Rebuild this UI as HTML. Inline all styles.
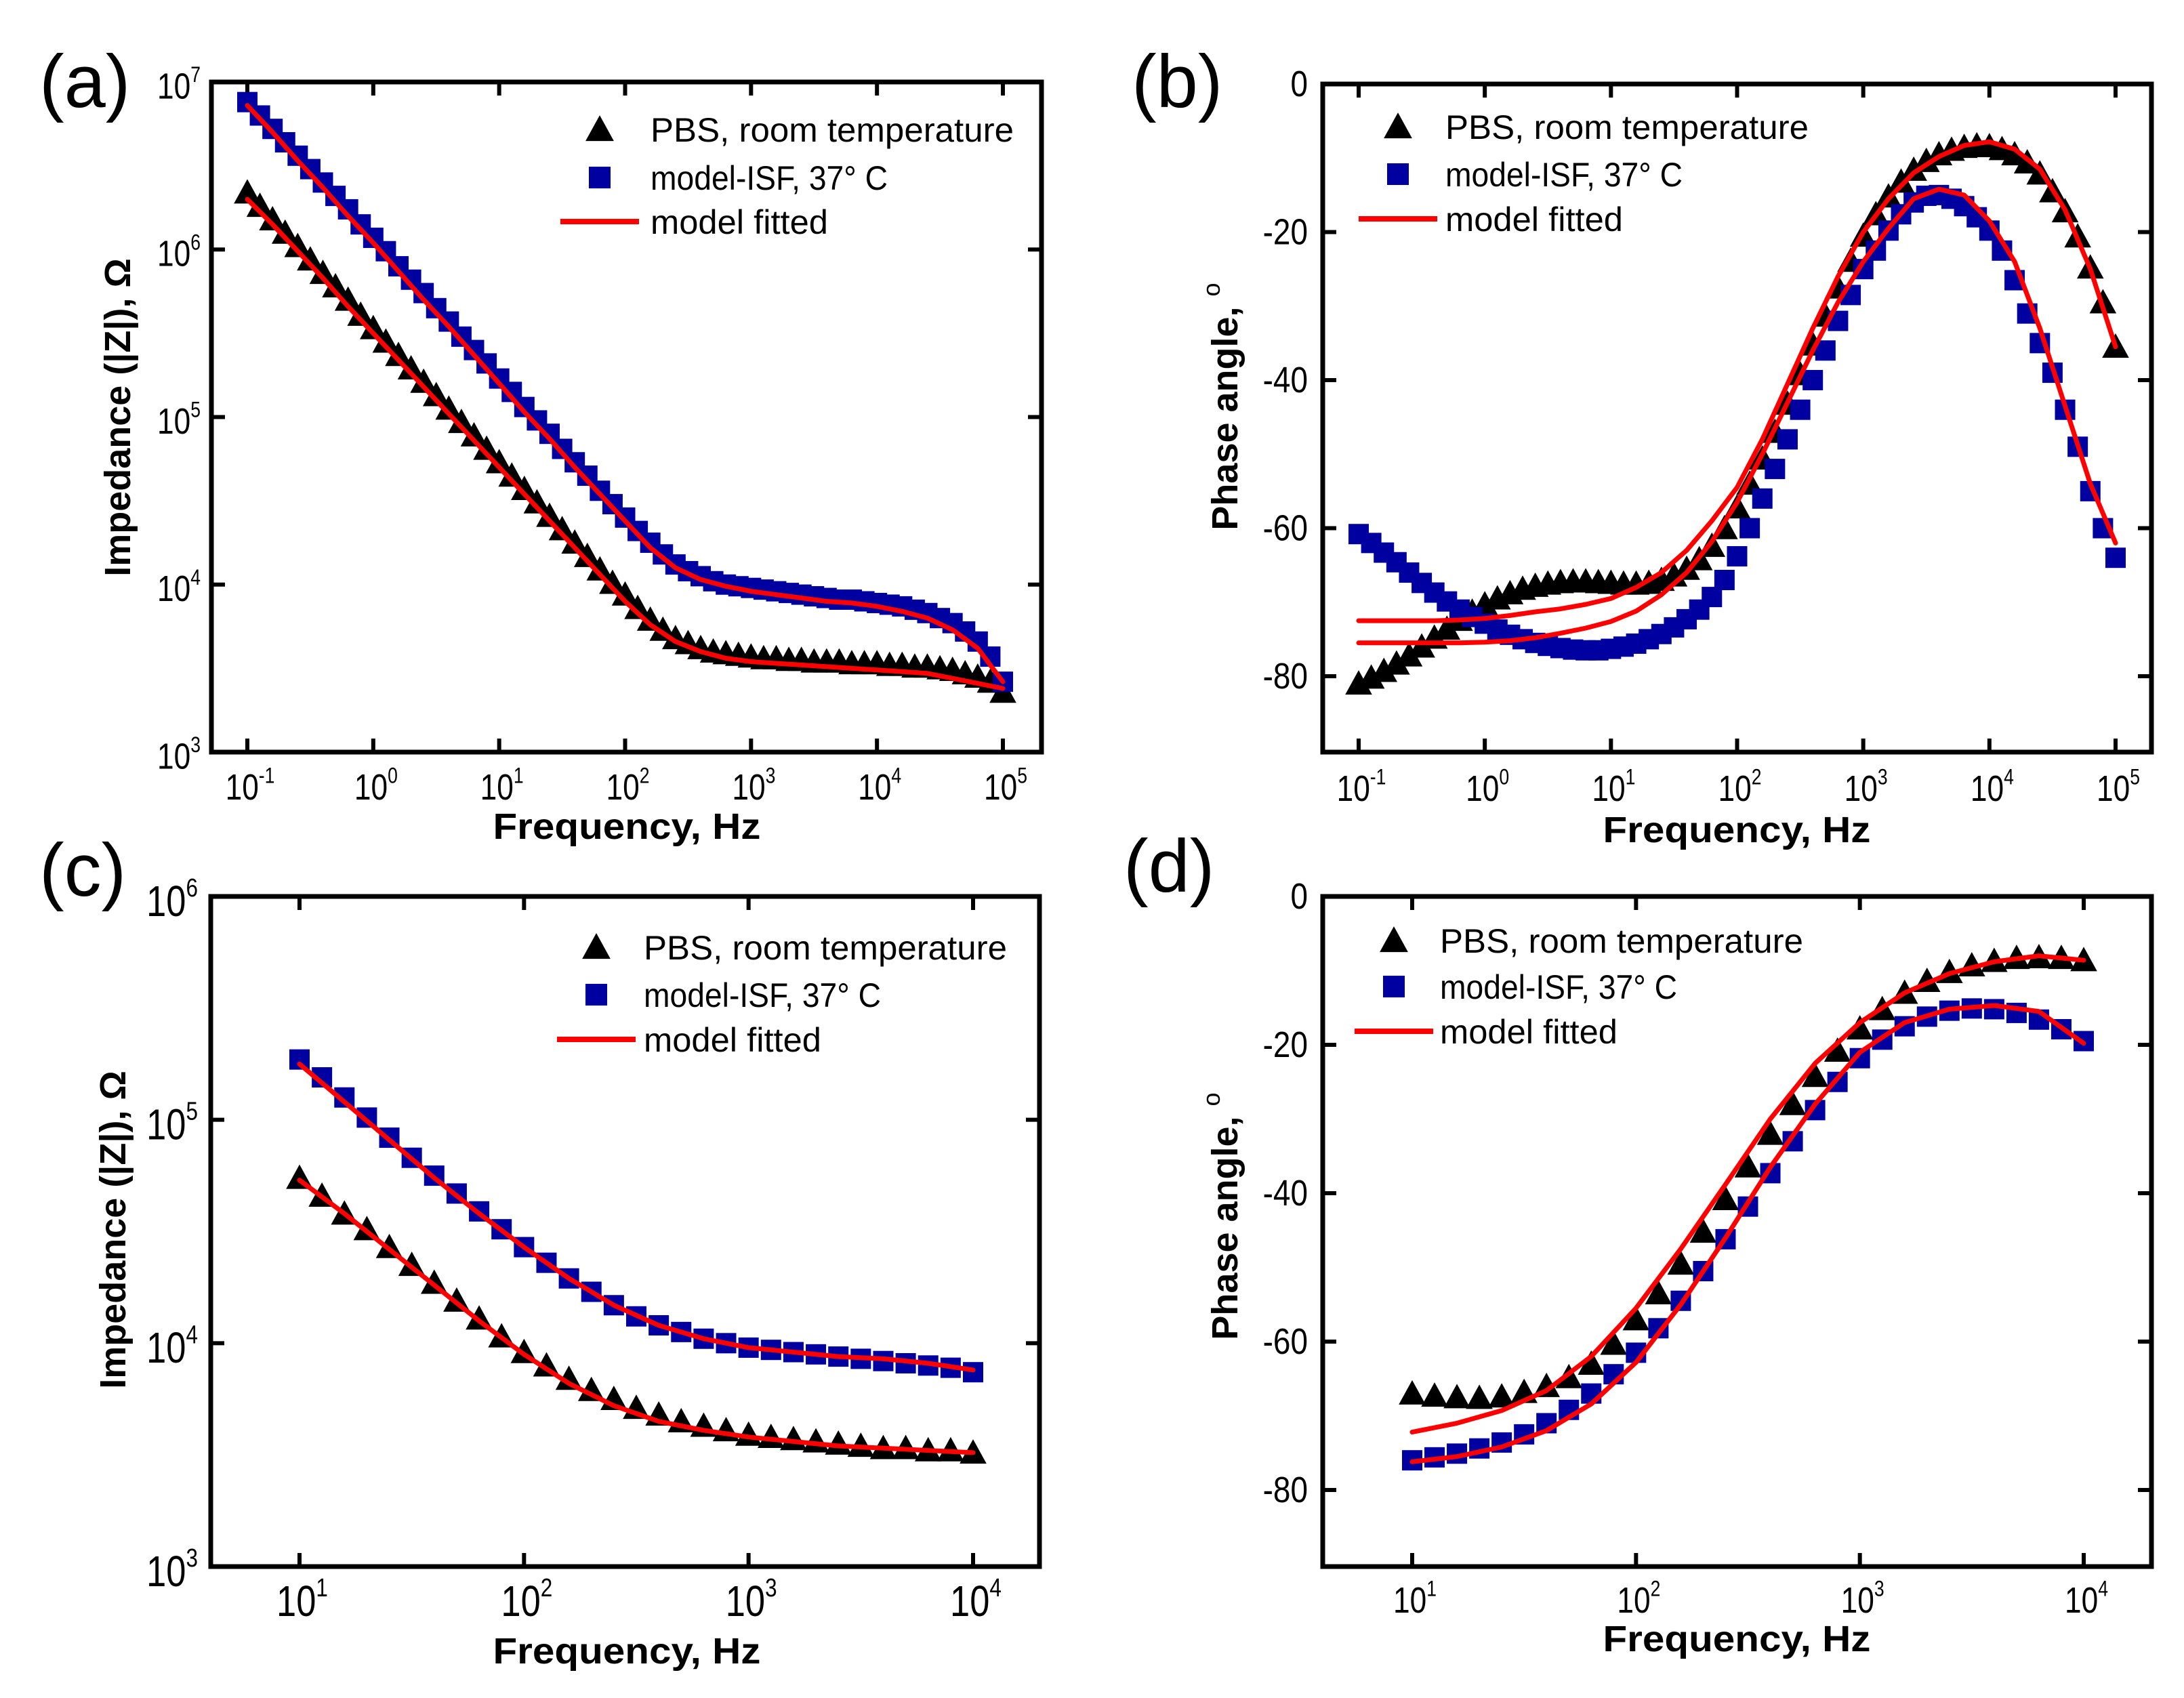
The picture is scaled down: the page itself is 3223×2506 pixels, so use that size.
<!DOCTYPE html>
<html><head><meta charset="utf-8">
<style>
html,body{margin:0;padding:0;background:#fff;}
svg{display:block;}
text{font-family:"Liberation Sans",Arial,sans-serif;fill:#000;}
</style></head>
<body>
<svg id="fig" xmlns="http://www.w3.org/2000/svg" width="3223" height="2506" viewBox="0 0 3223 2506"></svg>
<script>
// ---------- Panel (a): |Z| vs frequency, 0.1 Hz .. 1e5 Hz, 10 pts/decade ----------
const aFreqExp = [-1,-0.9,-0.8,-0.7,-0.6,-0.5,-0.4,-0.3,-0.2,-0.1,0,0.1,0.2,0.3,0.4,0.5,0.6,0.7,0.8,0.9,1,1.1,1.2,1.3,1.4,1.5,1.6,1.7,1.8,1.9,2,2.1,2.2,2.3,2.4,2.5,2.6,2.7,2.8,2.9,3,3.1,3.2,3.3,3.4,3.5,3.6,3.7,3.8,3.9,4,4.1,4.2,4.3,4.4,4.5,4.6,4.7,4.8,4.9,5];
const aPBS = [6.34,6.26,6.18,6.10,6.02,5.94,5.86,5.78,5.70,5.61,5.53,5.45,5.37,5.29,5.21,5.13,5.05,4.97,4.89,4.81,4.73,4.65,4.57,4.49,4.41,4.33,4.25,4.17,4.09,4.01,3.94,3.86,3.79,3.73,3.68,3.65,3.62,3.60,3.59,3.58,3.57,3.56,3.56,3.55,3.55,3.54,3.54,3.54,3.53,3.53,3.53,3.52,3.52,3.51,3.51,3.50,3.49,3.47,3.45,3.42,3.36];
const aISF = [6.88,6.80,6.72,6.64,6.56,6.48,6.40,6.32,6.24,6.15,6.07,5.99,5.90,5.82,5.74,5.65,5.57,5.48,5.40,5.32,5.23,5.15,5.06,4.98,4.90,4.81,4.73,4.65,4.56,4.48,4.40,4.32,4.25,4.18,4.12,4.08,4.05,4.02,4.00,3.99,3.98,3.97,3.96,3.95,3.94,3.93,3.92,3.91,3.91,3.90,3.89,3.88,3.87,3.85,3.83,3.80,3.77,3.72,3.66,3.57,3.42];
const aFitExp = [-1,-0.8,-0.6,-0.4,-0.2,0,0.2,0.4,0.6,0.8,1,1.2,1.4,1.6,1.8,2,2.2,2.4,2.6,2.8,3,3.2,3.4,3.6,3.8,4,4.2,4.4,4.6,4.8,5];
const aFitPBS = [6.30,6.15,5.99,5.83,5.66,5.50,5.34,5.18,5.02,4.86,4.70,4.54,4.38,4.22,4.06,3.90,3.76,3.66,3.60,3.56,3.54,3.53,3.52,3.51,3.50,3.49,3.48,3.47,3.44,3.41,3.38];
const aFitISF = [6.86,6.70,6.53,6.37,6.20,6.04,5.87,5.70,5.54,5.37,5.20,5.03,4.87,4.70,4.54,4.38,4.22,4.10,4.03,3.99,3.96,3.94,3.92,3.90,3.89,3.87,3.84,3.80,3.73,3.62,3.42];

// ---------- Panel (b): phase vs frequency ----------
const bPBS = [-81.0,-80.2,-79.3,-78.3,-77.2,-76.0,-74.8,-73.6,-72.4,-71.3,-70.3,-69.5,-68.8,-68.2,-67.8,-67.5,-67.3,-67.2,-67.2,-67.3,-67.4,-67.5,-67.5,-67.4,-67.0,-66.4,-65.5,-64.2,-62.4,-60.0,-57.2,-54.0,-50.6,-47.0,-43.2,-39.2,-35.2,-31.3,-27.5,-23.9,-20.5,-17.6,-15.2,-13.2,-11.6,-10.4,-9.5,-8.9,-8.5,-8.3,-8.4,-8.8,-9.5,-10.6,-12.1,-14.5,-17.2,-20.6,-24.8,-29.5,-35.5];
const bISF = [-60.8,-62.0,-63.3,-64.6,-66.0,-67.4,-68.7,-69.9,-71.0,-72.0,-72.9,-73.7,-74.4,-75.0,-75.5,-75.9,-76.2,-76.4,-76.5,-76.5,-76.3,-76.0,-75.6,-75.0,-74.3,-73.4,-72.3,-71.0,-69.3,-67.0,-63.8,-60.0,-56.0,-52.0,-48.0,-44.0,-40.0,-36.0,-32.0,-28.5,-25.0,-22.5,-19.8,-17.6,-16.0,-15.1,-15.0,-15.5,-16.5,-18.0,-19.8,-22.5,-26.5,-31.0,-35.0,-39.0,-44.0,-49.0,-55.0,-60.0,-64.0];
const bFitPBS = [-72.5,-72.5,-72.5,-72.5,-72.4,-72.2,-71.8,-71.3,-70.9,-70.3,-69.5,-68.0,-66.0,-63.0,-59.0,-54.5,-48.0,-40.5,-33.0,-26.0,-20.0,-15.5,-12.0,-9.8,-8.3,-7.8,-8.8,-11.5,-17.0,-25.0,-35.5];
const bFitISF = [-75.5,-75.5,-75.5,-75.5,-75.5,-75.4,-75.2,-74.8,-74.2,-73.5,-72.6,-71.2,-69.0,-66.0,-61.8,-56.5,-50.0,-43.0,-36.0,-29.5,-24.0,-19.5,-15.5,-14.2,-15.0,-18.5,-24.0,-33.0,-43.5,-54.0,-62.0];

// ---------- Panel (c): |Z|, 10 Hz .. 1e4 Hz ----------
const cFreqExp = [1,1.1,1.2,1.3,1.4,1.5,1.6,1.7,1.8,1.9,2,2.1,2.2,2.3,2.4,2.5,2.6,2.7,2.8,2.9,3,3.1,3.2,3.3,3.4,3.5,3.6,3.7,3.8,3.9,4];
const cPBS = [4.74,4.66,4.58,4.51,4.43,4.35,4.27,4.19,4.11,4.03,3.96,3.90,3.84,3.79,3.75,3.71,3.68,3.65,3.63,3.61,3.59,3.58,3.57,3.56,3.55,3.54,3.53,3.53,3.52,3.52,3.51];
const cISF = [5.27,5.19,5.10,5.01,4.92,4.83,4.75,4.67,4.59,4.51,4.43,4.36,4.29,4.23,4.17,4.12,4.08,4.05,4.02,4.00,3.98,3.97,3.96,3.95,3.94,3.93,3.92,3.91,3.90,3.89,3.87];
const cFitExp = [1,1.2,1.4,1.6,1.8,2,2.2,2.4,2.6,2.8,3,3.2,3.4,3.6,3.8,4];
const cFitPBS = [4.73,4.58,4.42,4.26,4.10,3.95,3.82,3.72,3.65,3.61,3.58,3.56,3.54,3.53,3.52,3.51];
const cFitISF = [5.25,5.08,4.91,4.74,4.58,4.43,4.29,4.17,4.08,4.02,3.98,3.96,3.94,3.93,3.91,3.88];

// ---------- Panel (d): phase, 10 Hz .. 1e4 Hz ----------
const dPBS = [-67.0,-67.3,-67.5,-67.6,-67.4,-66.8,-66.0,-64.8,-63.0,-60.3,-57.0,-53.5,-49.5,-45.2,-40.8,-36.4,-32.0,-28.0,-24.2,-20.8,-17.8,-15.2,-13.0,-11.4,-10.2,-9.3,-8.7,-8.3,-8.2,-8.3,-8.6];
const dISF = [-76.0,-75.6,-75.1,-74.4,-73.6,-72.5,-71.0,-69.2,-67.0,-64.4,-61.5,-58.2,-54.5,-50.5,-46.2,-41.8,-37.3,-33.0,-28.8,-25.0,-21.8,-19.3,-17.5,-16.2,-15.4,-15.1,-15.2,-15.7,-16.6,-17.9,-19.5];
const dFitPBS = [-72.2,-71.0,-69.3,-66.6,-62.0,-55.5,-47.5,-38.8,-30.0,-22.5,-17.0,-13.0,-10.4,-8.8,-8.0,-8.6];
const dFitISF = [-76.2,-75.5,-74.2,-72.0,-68.4,-62.8,-55.0,-46.0,-36.5,-28.0,-21.0,-17.0,-15.2,-14.7,-15.5,-19.8];

// tick label arrays
const aXTicks = [-1,0,1,2,3,4,5];
const aYTicks = [3,4,5,6,7];
const phaseTicks = [0,-20,-40,-60,-80];
const cXTicks = [1,2,3,4];
const cYTicks = [3,4,5,6];

const NS = "http://www.w3.org/2000/svg";
const svg = document.getElementById('fig');
const BLUE = "#0000a0";
function el(tag, attrs, parent){
  const e = document.createElementNS(NS, tag);
  for (const k in attrs) e.setAttribute(k, attrs[k]);
  (parent||svg).appendChild(e);
  return e;
}
function powLabel(g, x, y, exp, size, anchor){
  const t = el('text', {x:0, y:0, 'font-size':size, 'text-anchor':anchor, transform:`translate(${x},${y}) scale(0.82,1)`});
  
  
  t.appendChild(document.createTextNode('10'));
  const s = el('tspan', {dy: -size*0.45, 'font-size': size*0.6}, t);
  s.textContent = String(exp);
  g.appendChild(t);
  return t;
}
function triangle(g, x, y, s){
  const p = el('polygon', {points:`${x},${y-s*0.55} ${x-s*0.55},${y+s*0.45} ${x+s*0.55},${y+s*0.45}`, fill:'#000'}, g);
  
  
  return p;
}
function square(g, x, y, s){
  const r = el('rect', {x:x-s/2, y:y-s/2, width:s, height:s, fill:BLUE}, g);
  
  
  return r;
}

function panel(cfg){
  const g = el('g', {});
  
  
  const xS = v => cfg.x0px + (v - cfg.x0v) * (cfg.x1px - cfg.x0px) / (cfg.x1v - cfg.x0v);
  const yS = v => cfg.y0px + (v - cfg.y0v) * (cfg.y1px - cfg.y0px) / (cfg.y1v - cfg.y0v);
  cfg.xTicks.forEach(t => {
    const X = xS(t);
    const tb = el('line', {x1:X, x2:X, y1:cfg.B, y2:cfg.B-20, stroke:'#000','stroke-width':6}, g);
    
    
    el('line', {x1:X, x2:X, y1:cfg.T, y2:cfg.T+20, stroke:'#000','stroke-width':6}, g);
    if (cfg.logX) powLabel(g, X+4, cfg.xLabY, t, cfg.xFont, 'middle');
  });
  cfg.yTicks.forEach(t => {
    const Y = yS(t);
    const tl = el('line', {x1:cfg.L, x2:cfg.L+20, y1:Y, y2:Y, stroke:'#000','stroke-width':6}, g);
    
    
    el('line', {x1:cfg.R, x2:cfg.R-20, y1:Y, y2:Y, stroke:'#000','stroke-width':6}, g);
    if (cfg.logY) {
      powLabel(g, cfg.yLabX, Y + cfg.yFont*0.45, t, cfg.yFont, 'end');
    } else {
      const tx = el('text', {x:0, y:0, 'font-size':cfg.yFont, 'text-anchor':'end', transform:`translate(${cfg.yLabX},${Y+18}) scale(0.85,1)`}, g);
      
      
      tx.textContent = String(t);
    }
  });
  const fr = el('rect', {x:cfg.L, y:cfg.T, width:cfg.R-cfg.L, height:cfg.B-cfg.T, fill:'none', stroke:'#000','stroke-width':7}, g);
  
  
  cfg.xs.forEach((xv,i) => triangle(g, xS(xv), yS(cfg.pbs[i]), 36));
  cfg.xs.forEach((xv,i) => square(g, xS(xv), yS(cfg.isf[i]), 30));
  [cfg.fitPBS, cfg.fitISF].forEach((arr, k) => {
    const pts = arr.map((v,i) => `${xS(cfg.fitXs[i]).toFixed(1)},${yS(v).toFixed(1)}`).join(' ');
    const pl = el('polyline', {points:pts, fill:'none', stroke:'#ff0000','stroke-width':7,'stroke-linejoin':'round','stroke-linecap':'round'}, g);
    
    
  });
  const lg = el('g', {}, g);
  
  
  const Lg = cfg.leg;
  triangle(lg, Lg.mx, Lg.y1, 38);
  square(lg, Lg.mx, Lg.y2, 32);
  const ll = el('line', {x1:Lg.mx-58, x2:Lg.mx+58, y1:Lg.y3, y2:Lg.y3, stroke:'#ff0000','stroke-width':8}, lg);
  
  
  const texts = [['PBS, room temperature', 536, Lg.y1], ['model-ISF, 37\u00b0 C', 350, Lg.y2], ['model fitted', 262, Lg.y3]];
  texts.forEach((tt, i) => {
    const t = el('text', {x:Lg.tx, y:tt[2]+18, 'font-size':50, textLength:tt[1], lengthAdjust:'spacingAndGlyphs'}, lg);
    
    
    t.textContent = tt[0];
  });
  const xt = el('text', {x:cfg.xtX, y:cfg.xtY, 'font-size':54, 'font-weight':'bold', 'text-anchor':'middle', textLength:395, lengthAdjust:'spacingAndGlyphs'}, g);
  
  
  xt.textContent = 'Frequency, Hz';
  const yt = el('text', {x:0, y:0, 'font-size':54, 'font-weight':'bold', 'text-anchor':'middle', transform:`translate(${cfg.ytX},${cfg.ytY}) rotate(-90)`}, g);
  
  
  if (cfg.logY) { yt.textContent = 'Impedance (|Z|), \u03a9'; }
  else {
    yt.appendChild(document.createTextNode('Phase angle, '));
    const s = el('tspan', {dy:-26, 'font-size':36, 'font-weight':'normal'}, yt);
    s.textContent = 'o';
  }
  const pl = el('text', {x:cfg.plX, y:cfg.plY, 'font-size':110}, g);
  
  
  pl.textContent = cfg.label;
}

panel({name:'panel-a-impedance', label:'(a)', plX:58, plY:158,
  L:312, R:1537, T:121, B:1110,
  x0v:-1, x1v:5, x0px:365, x1px:1480, y0v:7, y1v:3, y0px:121, y1px:1110, logX:true, logY:true,
  xTicks:aXTicks, yTicks:aYTicks, xLabY:1180, xFont:54, yLabX:296, yFont:54,
  xs:aFreqExp, pbs:aPBS, isf:aISF, fitXs:aFitExp, fitPBS:aFitPBS, fitISF:aFitISF,
  leg:{mx:885, tx:960, y1:191, y2:262, y3:327},
  xtX:925, xtY:1238, ytX:192, ytY:616});
panel({name:'panel-b-phase', label:'(b)', plX:1670, plY:158,
  L:1952, R:3175, T:124, B:1110,
  x0v:-1, x1v:5, x0px:2005, x1px:3122, y0v:0, y1v:-80, y0px:124, y1px:998, logX:true, logY:false,
  xTicks:aXTicks, yTicks:phaseTicks, xLabY:1182, xFont:54, yLabX:1930, yFont:54,
  xs:aFreqExp, pbs:bPBS, isf:bISF, fitXs:aFitExp, fitPBS:bFitPBS, fitISF:bFitISF,
  leg:{mx:2063, tx:2133, y1:187, y2:257, y3:323},
  xtX:2563, xtY:1243, ytX:1826, ytY:600});
panel({name:'panel-c-impedance', label:'(c)', plX:58, plY:1322,
  L:311, R:1534, T:1323, B:2312,
  x0v:1, x1v:4, x0px:442, x1px:1436, y0v:6, y1v:3, y0px:1323, y1px:2312, logX:true, logY:true,
  xTicks:cXTicks, yTicks:cYTicks, xLabY:2385, xFont:64, yLabX:292, yFont:64,
  xs:cFreqExp, pbs:cPBS, isf:cISF, fitXs:cFitExp, fitPBS:cFitPBS, fitISF:cFitISF,
  leg:{mx:880, tx:950, y1:1398, y2:1468, y3:1534},
  xtX:925, xtY:2455, ytX:185, ytY:1815});
panel({name:'panel-d-phase', label:'(d)', plX:1658, plY:1316,
  L:1952, R:3175, T:1323, B:2312,
  x0v:1, x1v:4, x0px:2084, x1px:3075, y0v:0, y1v:-80, y0px:1323, y1px:2199, logX:true, logY:false,
  xTicks:cXTicks, yTicks:phaseTicks, xLabY:2380, xFont:54, yLabX:1930, yFont:54,
  xs:cFreqExp, pbs:dPBS, isf:dISF, fitXs:cFitExp, fitPBS:dFitPBS, fitISF:dFitISF,
  leg:{mx:2057, tx:2125, y1:1388, y2:1456, y3:1522},
  xtX:2563, xtY:2437, ytX:1826, ytY:1795});
</script>
</body></html>
